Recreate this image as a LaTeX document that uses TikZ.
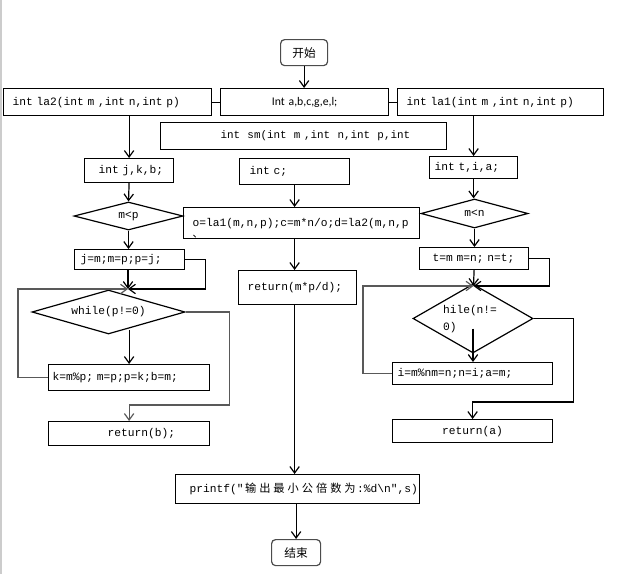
\documentclass[tikz,border=0pt]{standalone}
\usepackage{fontspec}
\setmonofont{Liberation Mono}
\newfontfamily\cjk{Noto Sans CJK SC}
\newfontfamily\carl{Carlito}
\usetikzlibrary{arrows.meta,shapes.geometric,calc}
\newdimen\px \px=0.03cm
\newcommand\cc[1]{\makebox[14.2\px]{\cjk #1}}
\begin{document}
\begin{tikzpicture}[x=0.03cm,y=-0.03cm,
  base/.style={font=\fontsize{9.6}{11.5}\selectfont\ttfamily, inner sep=0pt},
  box/.style={base, draw, line width=1.2\px, anchor=north west, inner xsep=3\px, align=left},
  rbox/.style={draw=black!70, line width=1.2\px, rounded corners=4\px, anchor=north west, font=\fontsize{10}{12}\selectfont\cjk, inner sep=0pt},
  dia/.style={base, draw, diamond, line width=1.2\px},
  ln/.style={line width=1.2\px},
  arr/.style={ln, -{Straight Barb[length=5.5pt,width=8pt]}},
  garr/.style={arr, draw=black!65}]
\useasboundingbox (0,0) rectangle (641,574);
\draw[gray!40, line width=2\px] (1,0) -- (1,574);

% top
\node[rbox, minimum width=47\px, minimum height=26\px] (st) at (280,39) {开始};
\node[box, minimum width=208\px, minimum height=27\px, text width=202\px] (la2) at (3,88) {\hspace*{6\px}int la2(int m ,int n,int p)};
\node[box, font=\fontsize{10}{12}\selectfont\carl, align=center, minimum width=168\px, minimum height=27\px, text width=162\px] (int) at (220,88) {Int a,b,c,g,e,l;};
\node[box, minimum width=206\px, minimum height=27\px, text width=200\px] (la1) at (397,88) {\hspace*{6\px}int la1(int m ,int n,int p)};
\node[box, font=\fontsize{9.3}{11.5}\selectfont\ttfamily, minimum width=286\px, minimum height=27\px, text width=280\px] (sm) at (160,122) {\hspace*{57\px}int~~sm(int~~m~,int~~n,int~~p,int};

% left column
\node[box, minimum width=89\px, minimum height=24\px, text width=83\px] (jkb) at (84,158) {\hspace*{11\px}int j,k,b;};
\node[dia, minimum width=109\px, minimum height=28\px, aspect=3.9] (mp) at (128.5,216) {m<p};
\node[box, minimum width=110\px, minimum height=20\px, text width=104\px] (jm) at (74,249) {\hspace*{3\px}j=m;m=p;p=j;};
\node[dia, minimum width=153\px, minimum height=44\px, aspect=3.5] (wh) at (108.5,312) {while(p!=0)};
\node[box, minimum width=161\px, minimum height=26\px, text width=155\px] (kb) at (48,364) {\hspace*{1\px}k=m\%p; m=p;p=k;b=m;};
\node[box, minimum width=161\px, minimum height=24\px, text width=155\px] (rb) at (48,421) {\hspace*{56\px}return(b);};
\coordinate (mL) at (128,289);

% middle column
\node[box, minimum width=110\px, minimum height=26\px, text width=104\px] (ic) at (239,158) {\hspace*{7\px}int c;};
\node[box, minimum width=236\px, minimum height=31\px, text width=230\px] (o) at (183,207) {\hspace*{6\px}o=la1(m,n,p);c=m*n/o;d=la2(m,n,p};
\node[font=\fontsize{9}{11}\selectfont\cjk, inner sep=0pt] (otk) at (198,237) {、};
\node[box, minimum width=118\px, minimum height=34\px, text width=112\px] (rm) at (238,270) {\hspace*{6\px}return(m*p/d);};
\node[box, minimum width=244\px, minimum height=29\px, text width=238\px] (pf) at (175,474) {\hspace*{11\px}printf("\cc{输}\cc{出}\cc{最}\cc{小}\cc{公}\cc{倍}\cc{数}\cc{为}:\%d\textbackslash n",s)};
\node[rbox, minimum width=49\px, minimum height=26\px] (en) at (271,539) {结束};

% right column
\node[box, minimum width=88\px, minimum height=22\px, text width=82\px] (it) at (429,156) {\hspace*{2\px}int t,i,a;};
\node[dia, minimum width=107\px, minimum height=29\px, aspect=3.7] (mn) at (474.5,213.5) {m<n};
\node[box, minimum width=109\px, minimum height=22\px, text width=103\px] (tb) at (419,247) {\hspace*{10\px}t=m m=n; n=t;};
\node[dia, minimum width=120\px, minimum height=69\px, aspect=1.74] (hl) at (473,318.5) {};
\node[base, align=left, font=\fontsize{9.6}{14.5}\selectfont\ttfamily] (hlt) at (470,319.5) {hile(n!=\\0)};
\node[box, minimum width=160\px, minimum height=22\px, text width=154\px] (ib) at (392,362) {\hspace*{2\px}i=m\%nm=n;n=i;a=m;};
\node[box, align=center, minimum width=160\px, minimum height=23\px, text width=154\px] (ra) at (392,419) {return(a)};
\coordinate (mR) at (473.5,286);

% connectors top
\draw[arr] (st.south) -- (st.south |- int.north);
\draw[ln] (la2.east) -- (int.west);
\draw[ln] (int.east) -- (la1.west);

% left connectors
\draw[arr] (la2.south -| jkb.north) -- (jkb.north);
\draw[arr] (jkb.south) -- (mp.north);
\draw[arr] (mp.south) -- (mp.south |- jm.north);
\draw[arr] (jm.south -| mL) -- (mL);
\draw[arr] (jm.east) -- ++(20,0) |- (mL);
\draw[garr] (kb.west) -- ++(-30,0) |- (mL);
\draw[arr] ($(kb.north)+(0,-34)$) -- (kb.north);
\draw[garr] (wh.east) -- ++(44,0) |- ($(rb.north)+(0,-16)$) -- (rb.north);

% middle connectors
\draw[arr] (ic.south) -- (ic.south |- o.north);
\draw[arr] (o.south -| ic.south) -- (rm.north -| ic.south);
\draw[arr] (rm.south -| ic.south) -- (pf.north -| ic.south);
\draw[arr] (pf.south -| en.north) -- (en.north);

% right connectors
\draw[arr] (la1.south -| it.north) -- (it.north);
\draw[arr] (it.south) -- (it.south |- mn.north);
\draw[arr] (mn.south) -- (mn.south |- tb.north);
\draw[arr] (tb.south) -- (mR);
\draw[arr] (tb.east) -- ++(20,0) |- (mR);
\draw[garr] (ib.west) -- ++(-29,0) |- (mR);
\draw[arr] ($(hl.center)+(0,10)$) -- (hl.center |- ib.north);
\draw[arr] (hl.east) -- ++(40,0) |- ($(ra.north)+(0,-17)$) -- (ra.north);
\end{tikzpicture}
\end{document}
